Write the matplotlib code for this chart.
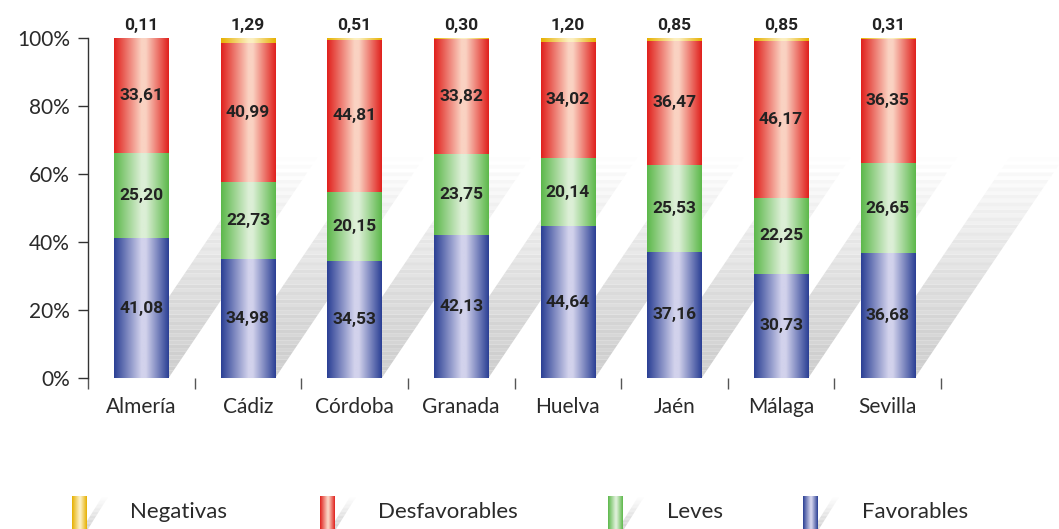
import numpy as np
import matplotlib
matplotlib.use("Agg")
import matplotlib.pyplot as plt
from matplotlib.patches import Polygon
from matplotlib.colors import LinearSegmentedColormap

provincias = ["Almería", "Cádiz", "Córdoba", "Granada", "Huelva", "Jaén", "Málaga", "Sevilla"]
favorables = [41.08, 34.98, 34.53, 42.13, 44.64, 37.16, 30.73, 36.68]
leves = [25.20, 22.73, 20.15, 23.75, 20.14, 25.53, 22.25, 26.65]
desfavorables = [33.61, 40.99, 44.81, 33.82, 34.02, 36.47, 46.17, 36.35]
negativas = [0.11, 1.29, 0.51, 0.30, 1.20, 0.85, 0.85, 0.31]

series = [("Favorables", favorables, "#2a3f94", "#d2d2ec"),
          ("Leves", leves, "#5cb84a", "#dcefd6"),
          ("Desfavorables", desfavorables, "#e0201c", "#fad2c2"),
          ("Negativas", negativas, "#e6b000", "#fcefc0")]

num_font = ["Roboto", "DejaVu Sans"]
txt_font = ["Lato", "DejaVu Sans"]

def fmt(v):
    return f"{v:.2f}".replace(".", ",")

def grad_cmap(edge, mid):
    return LinearSegmentedColormap.from_list("g", [(0, edge), (0.5, mid), (0.58, mid), (1, edge)])

grad = np.linspace(0, 1, 256).reshape(1, -1)

fig = plt.figure(figsize=(10.59, 5.29), dpi=100)
ax = fig.add_axes([0.0831, 0.2854, 0.8055, 0.6426])
ax.set_xlim(-0.5, 7.5)
ax.set_ylim(0, 100)

x = np.arange(len(provincias))
w = 0.51

# diagonal shadows behind the bars
for xi in x:
    n = 60
    dx, dy = 1.42, 66.0
    for k in range(n):
        t0, t1 = k / n, (k + 1) / n
        g = 0.80 + 0.20 * t0 ** 1.3
        if k % 2:
            g = min(1.0, g + 0.02)
        poly = Polygon([(xi - w / 2 + dx * t0, dy * t0), (xi + w / 2 + dx * t0, dy * t0),
                        (xi + w / 2 + dx * t1, dy * t1), (xi - w / 2 + dx * t1, dy * t1)],
                       closed=True, facecolor=(g, g, g), edgecolor="none", zorder=1, clip_on=False)
        ax.add_patch(poly)

bottom = np.zeros(len(x))
for name, vals, edge, mid in series:
    bars = ax.bar(x, vals, w, bottom=bottom, color="none", edgecolor="none", zorder=2)
    cmap = grad_cmap(edge, mid)
    for b in bars:
        x0, y0 = b.get_x(), b.get_y()
        im = ax.imshow(grad, cmap=cmap, aspect="auto", zorder=3,
                       extent=[x0, x0 + b.get_width(), y0, y0 + b.get_height()])
        im.set_clip_path(b)
    if name == "Negativas":
        for xi, v, b0 in zip(x, vals, bottom):
            ax.text(xi, b0 + v + 1.5, fmt(v), ha="center", va="bottom", fontsize=12.5,
                    fontweight="bold", family=num_font,
                    color="#222222", zorder=5, clip_on=False)
    else:
        for xi, v, b0 in zip(x, vals, bottom):
            ax.text(xi, b0 + v / 2, fmt(v), ha="center", va="center", fontsize=12.5,
                    fontweight="bold", family=num_font,
                    color="#222222", zorder=5)
    bottom += np.array(vals)

ax.set_xlim(-0.5, 7.5)
ax.set_ylim(0, 100)
for s in ["top", "right", "bottom"]:
    ax.spines[s].set_visible(False)
ax.spines["left"].set_color("#333333")
ax.spines["left"].set_linewidth(1)

ax.set_yticks([0, 20, 40, 60, 80, 100])
ax.set_yticklabels(["0%", "20%", "40%", "60%", "80%", "100%"])
ax.tick_params(axis="y", length=7, width=1, color="#333333", pad=6,
               labelsize=15, labelcolor="#2a2a2a")
for lab in ax.get_yticklabels():
    lab.set_family(txt_font)
ax.set_xticks(np.arange(-0.5, 8, 1))
ax.set_xticklabels([""] * 9)
ax.tick_params(axis="x", length=8, width=1, color="#555555", direction="out")
for xi, p in zip(x, provincias):
    ax.text(xi, -5.5, p, ha="center", va="top", fontsize=15, color="#2a2a2a",
            family=txt_font)

# legend
leg = [("Negativas", "#e6b000", "#fcefc0", 72, 130),
       ("Desfavorables", "#e0201c", "#fad2c2", 320, 378),
       ("Leves", "#5cb84a", "#dcefd6", 608, 667),
       ("Favorables", "#2a3f94", "#d2d2ec", 803, 862)]
W, H = 1059.0, 529.0
for name, edge, mid, px, tx in leg:
    lax = fig.add_axes([px / W, 0, 60 / W, 46 / H])
    lax.axis("off")
    n = 24
    for k in range(n):
        t0, t1 = k / n, (k + 1) / n
        g = 0.82 + 0.18 * t0
        lax.add_patch(Polygon([(10 + 20 * t0, 32 * t0), (16 + 20 * t0, 32 * t0),
                               (16 + 20 * t1, 32 * t1), (10 + 20 * t1, 32 * t1)],
                              facecolor=(g, g, g), edgecolor="none", zorder=1))
    lax.imshow(grad, cmap=grad_cmap(edge, mid), aspect="auto", extent=[0, 15, 0, 33], zorder=2)
    lax.set_xlim(0, 60)
    lax.set_ylim(0, 46)
    fig.text(tx / W, 17 / H, name, ha="left", va="center", fontsize=16, color="#2a2a2a",
             family=txt_font)

fig.savefig("out.png", dpi=100)
